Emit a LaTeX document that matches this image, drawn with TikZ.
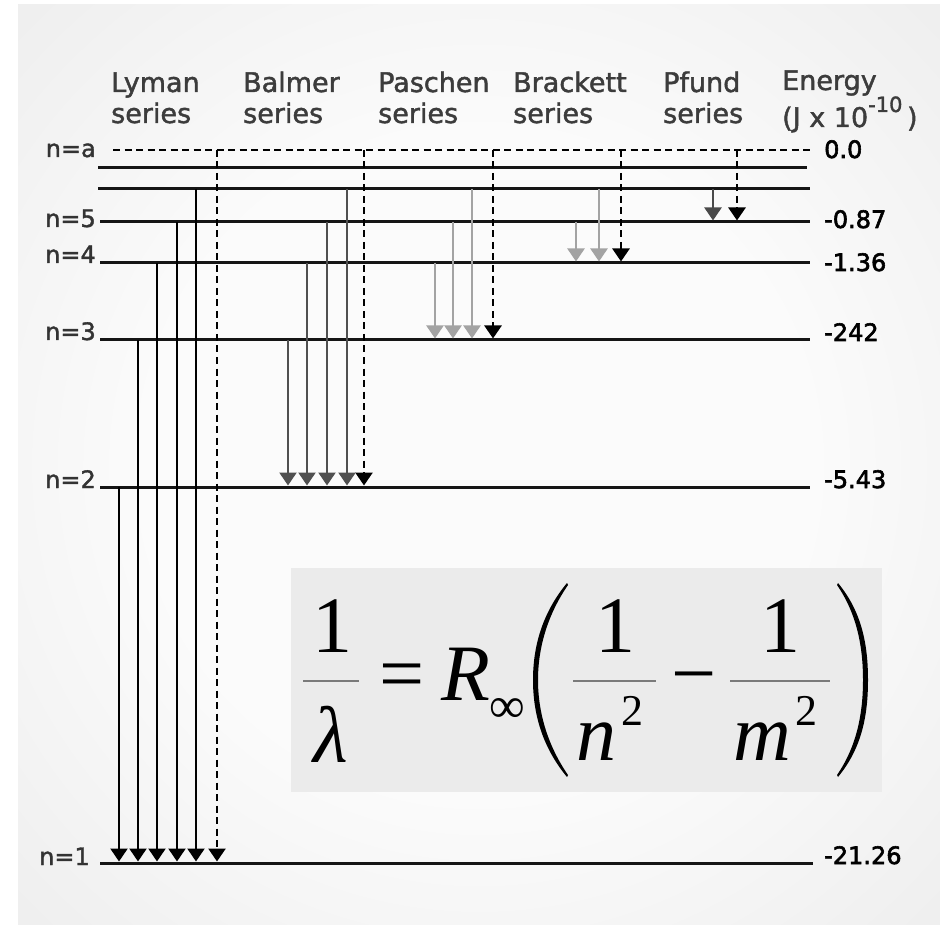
\documentclass[tikz,border=0pt]{standalone}
\usepackage{fontspec}
\setmainfont{DejaVu Sans}
\newfontfamily\semib[FakeBold=1.6]{DejaVu Sans}
\newfontfamily\boldv[FakeBold=2.4]{DejaVu Sans}
\newfontfamily\fml{Liberation Serif}
\usetikzlibrary{arrows.meta}
\definecolor{bgmid}{HTML}{FBFBFB}
\definecolor{bgout}{HTML}{E4E4E4}
\definecolor{bgcor}{HTML}{D8D8D8}
\definecolor{boxc}{HTML}{EBEBEB}
\definecolor{hdrc}{HTML}{3C3C3C}
\definecolor{labc}{HTML}{333333}
\definecolor{lvlc}{HTML}{151515}
\definecolor{balc}{HTML}{505050}
\definecolor{pasc}{HTML}{A3A3A3}
\definecolor{pfc}{HTML}{4A4A4A}
\definecolor{barc}{HTML}{7A7A7A}
\pgfdeclareradialshading{vign}{\pgfpoint{0bp}{0bp}}{color(0bp)=(bgmid); color(18bp)=(bgmid); color(50bp)=(bgout); color(72bp)=(bgcor)}
\tikzset{
  lvl/.style={line width=3pt, draw=lvlc},
  dshl/.style={line width=2.6pt, draw=black, dash pattern=on 7pt off 4.5pt},
  tr/.style={line width=2.3pt, -{Triangle[width=17pt,length=13pt]}},
  lyman/.style={tr, color=black},
  balmer/.style={tr, color=balc},
  paschen/.style={tr, color=pasc},
  pfundg/.style={tr, color=pfc},
  dsh/.style={tr, line width=2.6pt, color=black, dash pattern=on 7pt off 4.5pt},
  hdr/.style={inner sep=0pt, anchor=base west, text=hdrc, font=\semib\fontsize{27}{30}\selectfont},
  lab/.style={inner sep=0pt, anchor=base east, text=labc, font=\semib\fontsize{24}{28}\selectfont},
  val/.style={inner sep=0pt, anchor=base west, text=black, font=\boldv\fontsize{24}{28}\selectfont},
  fm/.style={inner sep=0pt, anchor=base, text=black, font=\fml\fontsize{80}{90}\selectfont},
  fmi/.style={fm, font=\fml\itshape\fontsize{80}{90}\selectfont},
  fms/.style={fm, font=\fml\fontsize{44}{48}\selectfont},
  fbar/.style={line width=1.6pt, draw=barc},
}
\begin{document}
\begin{tikzpicture}[x=1pt,y=-1pt]
\useasboundingbox (0,0) rectangle (940,925);
\fill[white] (0,0) rectangle (940,925);
\shade[shading=vign] (18,5) rectangle (940,925);

% headers
\node[hdr] (hLy1) at (111,92) {Lyman};
\node[hdr] (hLy2) at (111,123) {series};
\node[hdr] (hBa1) at (243,92) {Balmer};
\node[hdr] (hBa2) at (243,123) {series};
\node[hdr] (hPa1) at (378,92) {Paschen};
\node[hdr] (hPa2) at (378,123) {series};
\node[hdr] (hBr1) at (513,92) {Brackett};
\node[hdr] (hBr2) at (513,123) {series};
\node[hdr] (hPf1) at (663,92) {Pfund};
\node[hdr] (hPf2) at (663,123) {series};
\node[hdr] (hEn1) at (782,90) {Energy};
\node[hdr] (hEn2) at (782,127) {(J x 10\raisebox{15pt}{\fontsize{21}{24}\selectfont -10}\,)};

% energy levels
\coordinate (lvaa) at (113,150);
\coordinate (lvab) at (810,150);
\draw[dshl] (lvaa) -- (lvab);
\foreach \nm/\y/\xa/\xb in {A/168/98/807, B/189/98/810, 5/222/100/810, 4/263/100/810, 3/340/100/810, 2/487/100/810, 1/863/100/813}{
  \coordinate (lv\nm a) at (\xa,\y);
  \coordinate (lv\nm b) at (\xb,\y);
  \draw[lvl] (lv\nm a) -- (lv\nm b);
}

% level labels
\node[lab] (na) at (96,157) {n=a};
\node[lab] (n5) at (96,227) {n=5};
\node[lab] (n4) at (96,263) {n=4};
\node[lab] (n3) at (96,340) {n=3};
\node[lab] (n2) at (96,488) {n=2};
\node[lab] (n1) at (90,865) {n=1};

% values
\node[val] (v0) at (824,158) {0.0};
\node[val] (v5) at (824,228) {-0.87};
\node[val] (v4) at (824,271) {-1.36};
\node[val] (v3) at (824,341) {-242};
\node[val] (v2) at (824,488) {-5.43};
\node[val] (v1) at (824,864) {-21.26};

% Lyman
\foreach \x/\ys in {119/487,138/340,157/263,177/222,196/189}{
  \coordinate (ly\x s) at (\x,\ys);
  \coordinate (ly\x e) at (\x,861.5);
  \draw[lyman] (ly\x s) -- (ly\x e);
}
\coordinate (ly217s) at (217,150);
\coordinate (ly217e) at (217,861.5);
\draw[dsh] (ly217s) -- (ly217e);

% Balmer
\foreach \x/\ys in {288/340,307/263,327/222,347/189}{
  \coordinate (ba\x s) at (\x,\ys);
  \coordinate (ba\x e) at (\x,485.5);
  \draw[balmer] (ba\x s) -- (ba\x e);
}
\coordinate (ba364s) at (364,150);
\coordinate (ba364e) at (364,485.5);
\draw[dsh] (ba364s) -- (ba364e);

% Paschen
\foreach \x/\ys in {435/263,453/222,472/189}{
  \coordinate (pa\x s) at (\x,\ys);
  \coordinate (pa\x e) at (\x,338.5);
  \draw[paschen] (pa\x s) -- (pa\x e);
}
\coordinate (pa493s) at (493,150);
\coordinate (pa493e) at (493,338.5);
\draw[dsh] (pa493s) -- (pa493e);

% Brackett
\foreach \x/\ys in {576/222,599/189}{
  \coordinate (br\x s) at (\x,\ys);
  \coordinate (br\x e) at (\x,261.5);
  \draw[paschen] (br\x s) -- (br\x e);
}
\coordinate (br621s) at (621,150);
\coordinate (br621e) at (621,261.5);
\draw[dsh] (br621s) -- (br621e);

% Pfund
\coordinate (pf713s) at (713,189);
\coordinate (pf713e) at (713,220.5);
\draw[pfundg] (pf713s) -- (pf713e);
\coordinate (pf737s) at (737,150);
\coordinate (pf737e) at (737,220.5);
\draw[dsh] (pf737s) -- (pf737e);

% formula box
\fill[boxc] (291,568) rectangle (882,792);
\node[fm] (f1) at (332,652) {1};
\draw[fbar] (303,681) -- (359,681);
\node[fmi] (flam) at (331,762) {λ};
\node[fm] (feq) at (402,700) {=};
\node[fmi, anchor=base west] (fR) at (441,700) {R};
\node[inner sep=0pt, font=\fml\fontsize{50}{54}\selectfont] (finf) at (507,710) {∞};
\fill (567,583) .. controls (543,612) and (533,645) .. (533,680) .. controls (533,715) and (543,748) .. (567,777) -- (568,775) .. controls (548,746) and (538,713) .. (538,680) .. controls (538,647) and (548,614) .. (568,585) -- cycle;
\node[fm] (f1n) at (615,652) {1};
\draw[fbar] (573,681) -- (656,681);
\node[fmi] (fn) at (596,760) {n};
\node[fms] (fn2) at (632,725) {2};
\node[fm] (fmin) at (694,700) {−};
\node[fm] (f1m) at (780,652) {1};
\draw[fbar] (730,681) -- (830,681);
\node[fmi] (fm) at (762,760) {m};
\node[fms] (fm2) at (806,725) {2};
\fill (838,583) .. controls (862,612) and (868,645) .. (868,680) .. controls (868,715) and (862,748) .. (838,777) -- (837,775) .. controls (857,746) and (863,713) .. (863,680) .. controls (863,647) and (857,614) .. (837,585) -- cycle;
\end{tikzpicture}
\end{document}
